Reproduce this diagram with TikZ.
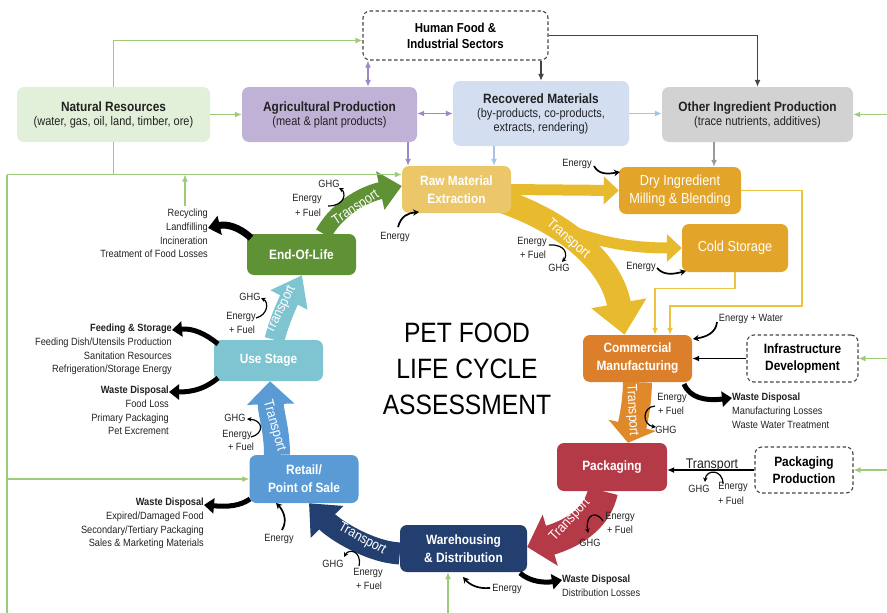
\documentclass[tikz,border=0pt]{standalone}
\usepackage{fontspec}
\setmainfont{Liberation Sans}[FakeStretch=0.88]
\usetikzlibrary{arrows.meta,backgrounds}
\definecolor{cNat}{HTML}{E2EFD9}
\definecolor{cAgr}{HTML}{BFB2D6}
\definecolor{cRec}{HTML}{D3DFF1}
\definecolor{cOth}{HTML}{D2D2D2}
\definecolor{cRaw}{HTML}{ECC76A}
\definecolor{cDry}{HTML}{E2A52A}
\definecolor{cYel}{HTML}{E8BB2E}
\definecolor{cYl}{HTML}{EDC23C}
\definecolor{cCom}{HTML}{DC7F2A}
\definecolor{cOra}{HTML}{E0892B}
\definecolor{cPak}{HTML}{B53A47}
\definecolor{cWar}{HTML}{233F70}
\definecolor{cRet}{HTML}{5B9BD5}
\definecolor{cUse}{HTML}{7EC4D1}
\definecolor{cEol}{HTML}{5E9234}
\definecolor{cGl}{HTML}{9CCB7A}
\definecolor{cPl}{HTML}{9B88C6}
\definecolor{cBl}{HTML}{A7C2EA}
\definecolor{cGr}{HTML}{9A9A9A}
\definecolor{cDg}{HTML}{444444}
\definecolor{cTxt}{HTML}{222222}
\begin{document}
\begin{tikzpicture}[x=1pt,y=-1pt,
  box/.style={rectangle,rounded corners=7pt,inner sep=0pt,align=center},
  topbox/.style={box,text=cTxt,font=\fontsize{12.5}{14}\selectfont},
  wbox/.style={box,text=white,font=\fontsize{13.5}{18}\selectfont\bfseries},
  dbox/.style={box,draw=cDg,dash pattern=on 3.5pt off 2.5pt,line width=1.1pt,text=black,font=\fontsize{13.5}{17}\selectfont\bfseries},
  lab/.style={text=cTxt,font=\fontsize{10.5}{13.6}\selectfont,inner sep=0pt},
  tlab/.style={text=white,font=\fontsize{14}{14}\selectfont,inner sep=0pt},
  gline/.style={cGl,line width=1.2pt},
  garr/.style={gline,-{Latex[length=7pt,width=6pt]}},
  parr/.style={cPl,line width=1.2pt,{Latex[length=7pt,width=6pt]}-{Latex[length=7pt,width=6pt]}},
  parrone/.style={cPl,line width=1.2pt,-{Latex[length=7pt,width=6pt]}},
  barr/.style={cBl,line width=1.2pt,-{Latex[length=7pt,width=6pt]}},
  grarr/.style={cGr,line width=1.2pt,-{Latex[length=7pt,width=6pt]}},
  karr/.style={cDg,line width=1.2pt,-{Latex[length=7pt,width=6pt]}},
  yarr/.style={cYl,line width=1.2pt,-{Latex[length=7pt,width=6pt]}},
  earr/.style={black,line width=1.7pt,-{Stealth[length=6pt,width=6.5pt]}},
  harr/.style={black,line width=1.2pt,-{Stealth[length=4.5pt,width=4.5pt]}},
  warr/.style={black,line width=5pt,-{Triangle[length=10pt,width=15pt]}}
]
\useasboundingbox (0,0) rectangle (887,613);

% ---------- boxes ----------
\node[dbox,minimum width=185pt,minimum height=49pt,font=\fontsize{13}{16}\selectfont\bfseries] (human) at (455.5,35.5) {Human Food \&\\Industrial Sectors};
\node[topbox,fill=cNat,minimum width=193pt,minimum height=55pt] (nat) at (113.5,114.5) {{\fontsize{13.5}{16}\selectfont\bfseries Natural Resources}\\(water, gas, oil, land, timber, ore)};
\node[topbox,fill=cAgr,minimum width=175pt,minimum height=55pt] (agr) at (329.5,114.5) {{\fontsize{13.5}{16}\selectfont\bfseries Agricultural Production}\\(meat \& plant products)};
\node[topbox,fill=cRec,minimum width=176pt,minimum height=65pt] (rec) at (541,113.5) {{\fontsize{13.5}{16}\selectfont\bfseries Recovered Materials}\\(by-products, co-products,\\extracts, rendering)};
\node[topbox,fill=cOth,minimum width=191pt,minimum height=55pt] (oth) at (757.5,114.5) {{\fontsize{13.5}{16}\selectfont\bfseries Other Ingredient Production}\\(trace nutrients, additives)};

\node[wbox,fill=cRaw,minimum width=109pt,minimum height=47pt] (raw) at (456.5,189.5) {Raw Material\\Extraction};
\node[box,fill=cDry,text=white,font=\fontsize{14.5}{18}\selectfont,minimum width=122pt,minimum height=47pt] (dry) at (680,190.5) {Dry Ingredient\\Milling \& Blending};
\node[box,fill=cDry,text=white,font=\fontsize{14.5}{18}\selectfont,minimum width=106pt,minimum height=48pt] (cold) at (735,248) {Cold Storage};
\node[wbox,fill=cCom,minimum width=109pt,minimum height=47pt] (comm) at (637.5,358.5) {Commercial\\Manufacturing};
\node[dbox,minimum width=111pt,minimum height=47pt] (infra) at (802.5,358.5) {Infrastructure\\Development};
\node[wbox,fill=cPak,minimum width=110pt,minimum height=48pt] (pack) at (612,467) {Packaging};
\node[dbox,minimum width=98pt,minimum height=46pt] (pprod) at (804,470) {Packaging\\Production};
\node[wbox,fill=cWar,minimum width=127pt,minimum height=47pt] (ware) at (463.5,548.5) {Warehousing\\\& Distribution};
\node[wbox,fill=cRet,minimum width=109pt,minimum height=48pt] (retail) at (304,479) {Retail/\\Point of Sale};
\node[wbox,fill=cUse,minimum width=109pt,minimum height=41pt] (use) at (268.5,360.5) {Use Stage};
\node[wbox,fill=cEol,minimum width=109pt,minimum height=41pt] (eol) at (301.5,254.5) {End-Of-Life};

\node[text=black,align=center,font=\fontsize{28}{36}\selectfont] (title) at (467,369) {PET FOOD\\LIFE CYCLE\\ASSESSMENT};

% ---------- thick transport arrows ----------
\begin{scope}[on background layer]
\draw[cEol,line width=17pt,-{Triangle[length=22pt,width=38pt]}] ([xshift=22pt]eol.north) .. controls (335,212) and (360,195) .. ([yshift=3.5pt]raw.west);
\draw[cYel,line width=11pt,-{Triangle[length=15pt,width=27pt]}] ([xshift=-4pt]raw.east) -- (dry.west);
\draw[cYel,line width=11pt,-{Triangle[length=15pt,width=27pt]}] (528,209) .. controls (580,242) and (630,248) .. (cold.west);
\draw[cYel,line width=24pt,-{Triangle[length=32pt,width=54pt]}] ([xshift=-8pt,yshift=-12pt]raw.east) .. controls (570,225) and (612,265) .. ([xshift=-13pt]comm.north);
\draw[cOra,line width=29pt,-{Triangle[length=18pt,width=48pt]}] (comm.south) .. controls (637,405) and (633,422) .. ([xshift=16pt]pack.north);
\draw[cPak,line width=30pt,-{Triangle[length=24pt,width=52pt]}] ([xshift=-9pt]pack.south) .. controls (598,515) and (578,532) .. ([yshift=1.5pt]ware.east);
\draw[cWar,line width=22pt,-{Triangle[length=26pt,width=44pt]}] ([yshift=-5pt]ware.west) .. controls (370,552) and (335,530) .. ([xshift=5pt]retail.south);
\draw[cRet,line width=26pt,-{Triangle[length=23pt,width=46pt]}] ([xshift=-27pt]retail.north) .. controls (277,430) and (271,415) .. ([xshift=1.5pt]use.south);
\draw[cUse,line width=20pt,-{Triangle[length=28pt,width=40pt]}] ([xshift=6pt]use.north) .. controls (280,318) and (290,298) .. ([xshift=0.5pt]eol.south);
\end{scope}

\node[tlab,rotate=33] (t1) at (356,208) {Transport};
\node[tlab,rotate=-41] (t2) at (568,239) {Transport};
\node[tlab,rotate=-87] (t3) at (632,410) {Transport};
\node[tlab,rotate=47] (t4) at (570,520) {Transport};
\node[tlab,rotate=-29] (t5) at (362,539) {Transport};
\node[tlab,rotate=-74] (t6) at (274,426) {Transport};
\node[tlab,rotate=64] (t7) at (281,310) {Transport};

% ---------- green resource lines ----------
\coordinate (gtl) at (7,174.5);
\coordinate (gbl) at (7,613);
\coordinate (wb) at (448,613);
\coordinate (re) at (887,0);
\coordinate (ru) at (185,206);
\draw[gline] (gbl) -- (gtl);
\draw[garr] (gtl) -- (gtl -| raw.west);
\draw[gline] (nat.south) -- (nat.south |- gtl);
\draw[garr] (nat.north) |- ([yshift=-5pt]human.west);
\draw[garr] (nat.east) -- (agr.west);
\draw[garr] (gbl |- retail.west) -- (retail.west);
\draw[garr] (wb) -- (wb |- ware.south);
\draw[garr] (re |- oth.east) -- (oth.east);
\draw[garr] (re |- infra.east) -- (infra.east);
\draw[garr] (re |- pprod.east) -- (pprod.east);
\draw[garr] (ru) -- (ru |- gtl);

% ---------- other thin connectors ----------
\coordinate (p1) at ([xshift=38.5pt]agr.north);
\draw[parr] (p1 |- human.south) -- (p1);
\draw[parr] (rec.west) -- (rec.west -| agr.east);
\coordinate (p2) at ([xshift=78.5pt]agr.south);
\draw[parrone] (p2) -- (p2 |- raw.north);
\draw[karr] (rec.north |- human.south) -- (rec.north);
\draw[karr] (human.east) -| (oth.north);
\draw[barr] (rec.east) -- (rec.east -| oth.west);
\coordinate (b1) at ([xshift=-47pt]rec.south);
\draw[barr] (b1) -- (b1 |- raw.north);
\coordinate (g1) at ([xshift=-43.5pt]oth.south);
\draw[grarr] (g1) -- (g1 |- dry.north);
\coordinate (y1) at (802,306);
\draw[yarr] (dry.east) -| (y1) -| ([xshift=32.5pt]comm.north);
\draw[yarr] (cold.south) -- ++(0,16) -| ([xshift=17.5pt]comm.north);
\draw[karr,black] (infra.west) -- (infra.west -| comm.east);
\draw[karr,black] (pprod.west) -- (pprod.west -| pack.east);
\node[text=cTxt,font=\fontsize{14}{14}\selectfont,inner sep=0pt,anchor=base] (tp) at (712,468) {Transport};

% ---------- side texts ----------
\node[lab,anchor=north east,align=right] (recyc) at (208,209) {Recycling\\Landfilling\\Incineration\\Treatment of Food Losses};
\node[lab,anchor=north east,align=right] (feed) at (172,324) {\textbf{Feeding \& Storage}\\Feeding Dish/Utensils Production\\Sanitation Resources\\Refrigeration/Storage Energy};
\node[lab,anchor=north east,align=right] (wuse) at (169,386) {\textbf{Waste Disposal}\\Food Loss\\Primary Packaging\\Pet Excrement};
\node[lab,anchor=north east,align=right] (wret) at (204,498) {\textbf{Waste Disposal}\\Expired/Damaged Food\\Secondary/Tertiary Packaging\\Sales \& Marketing Materials};
\node[lab,anchor=north west,align=left] (wcomm) at (732,393) {\textbf{Waste Disposal}\\Manufacturing Losses\\Waste Water Treatment};
\node[lab,anchor=north west,align=left] (wware) at (562,575) {\textbf{Waste Disposal}\\Distribution Losses};

\draw[warr,line width=7pt,-{Triangle[length=12pt,width=19pt]}] (251,238) .. controls (238,226) and (226,224) .. (recyc.north east |- 0,228);
\draw[warr] (218,344) .. controls (206,334) and (193,328) .. (feed.north east |- 0,330);
\draw[warr] (218,378) .. controls (206,388) and (194,392) .. (wuse.north east |- 0,392);
\draw[warr] (250,499) .. controls (240,506) and (228,507) .. (wret.north east |- 0,505);
\draw[warr] (684,384) .. controls (690,398) and (705,401) .. (wcomm.north west |- 0,398);
\draw[warr] (520,573) .. controls (530,582) and (545,583) .. (wware.north west |- 0,580);

% ---------- energy / GHG labels ----------
\node[lab] (ghg1) at (329,184) {GHG};
\node[lab] (en1) at (307,199) {Energy};
\node[lab] (fu1) at (308,213) {+ Fuel};
\draw[harr] (328,206) .. controls (346,206) and (346,192) .. (339,188);

\node[lab] (en2) at (395,237) {Energy};
\draw[earr] (398,227) .. controls (401,216) and (408,213) .. (419,212);

\node[lab] (en3) at (577,164) {Energy};
\draw[earr] (594,166) .. controls (599,175) and (608,174) .. (620,172);

\node[lab] (en7) at (532,242) {Energy};
\node[lab] (fu7) at (533,255) {+ Fuel};
\node[lab] (ghg7) at (559,268) {GHG};
\draw[harr] (549,245) .. controls (566,244) and (568,255) .. (562,262);

\node[lab] (en4) at (641,267) {Energy};
\draw[earr] (657,268) .. controls (664,276) and (674,274) .. (686,271);

\node[lab] (ew) at (751,319) {Energy + Water};
\draw[earr] (717,322) .. controls (716,333) and (706,337) .. (693,339);

\node[lab] (en8) at (672,398) {Energy};
\node[lab] (fu8) at (671,411) {+ Fuel};
\node[lab] (ghg8) at (666,430) {GHG};
\draw[harr] (655,406) .. controls (642,407) and (642,425) .. (656,427);

\node[lab] (ghg9) at (699,489) {GHG};
\node[lab] (en9) at (733,487) {Energy};
\node[lab] (fu9) at (731,501) {+ Fuel};
\draw[harr] (723,484) .. controls (723,469) and (706,469) .. (705,482);

\node[lab] (en10) at (620,517) {Energy};
\node[lab] (fu10) at (620,530) {+ Fuel};
\node[lab] (ghg10) at (590,543) {GHG};
\draw[harr] (603,521) .. controls (597,511) and (585,513) .. (588,533);

\node[lab] (en6) at (507,589) {Energy};
\draw[earr] (490,588) .. controls (478,589) and (470,585) .. (463,577);

\node[lab] (ghg11) at (333,564) {GHG};
\node[lab] (en11) at (368,573) {Energy};
\node[lab] (fu11) at (369,586) {+ Fuel};
\draw[harr] (359,566) .. controls (362,551) and (349,548) .. (344,557);

\node[lab] (en5) at (279,539) {Energy};
\draw[earr] (282,530) .. controls (288,520) and (283,510) .. (276,503);

\node[lab] (ghg12) at (235,418) {GHG};
\node[lab] (en12) at (237,435) {Energy};
\node[lab] (fu12) at (241,447) {+ Fuel};
\draw[harr] (251,437) .. controls (264,434) and (264,420) .. (247,419);

\node[lab] (ghg13) at (250,297) {GHG};
\node[lab] (en13) at (241,317) {Energy};
\node[lab] (fu13) at (242,330) {+ Fuel};
\draw[harr] (256,318) .. controls (268,315) and (269,302) .. (261,298);
\end{tikzpicture}
\end{document}
